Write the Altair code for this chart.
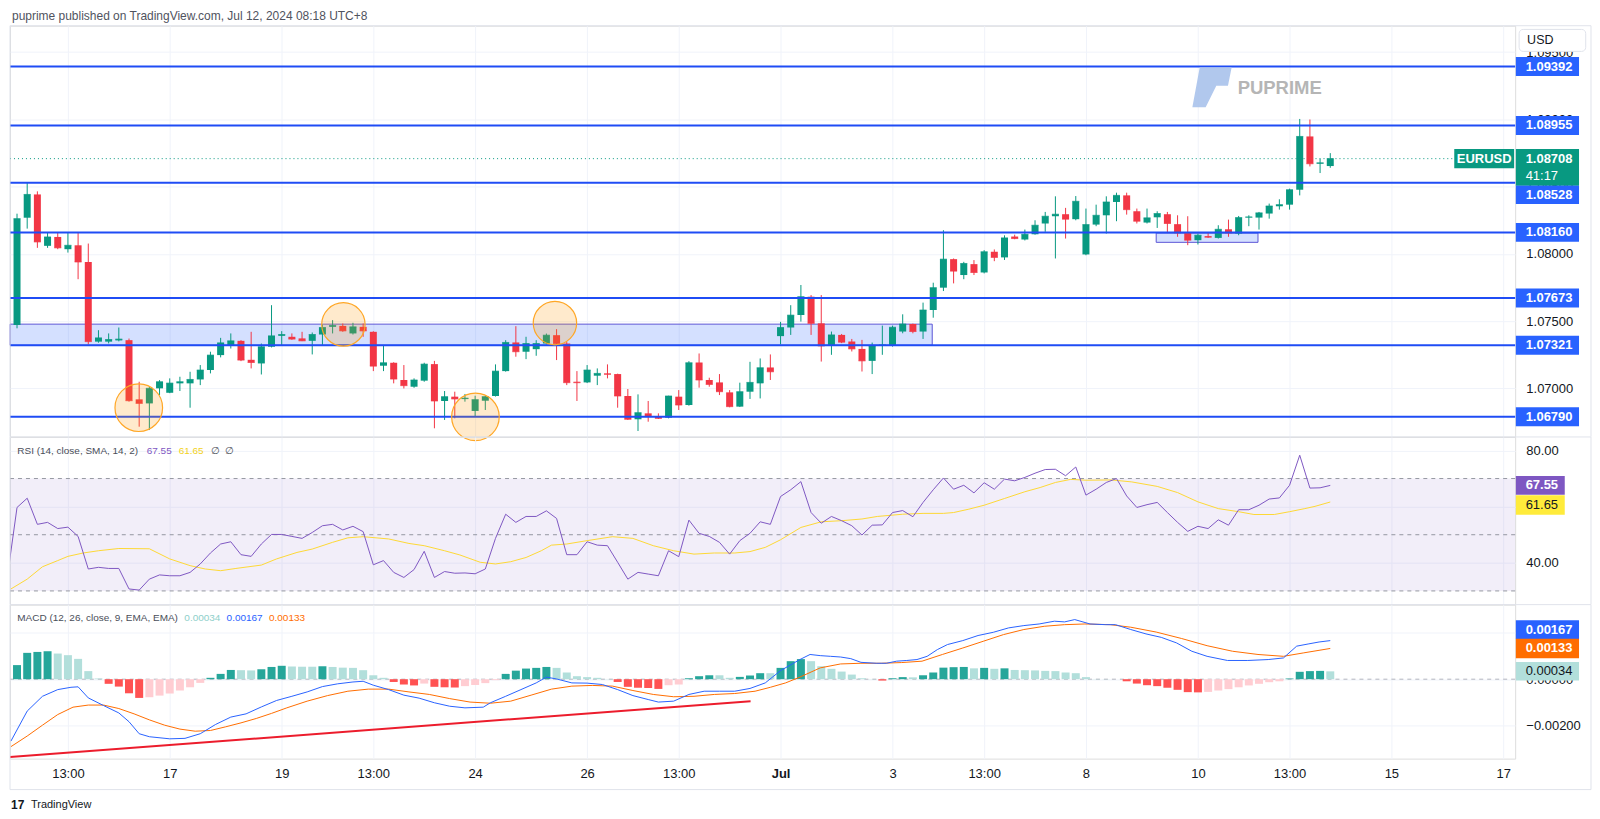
import altair as alt
import numpy as np
import pandas as pd

# ====================== DATA ======================
# EURUSD 4H candles (index 0 = first visible bar)
opens = [1.07472, 1.08269, 1.08442, 1.08060, 1.08126, 1.08035, 1.08064, 1.07940, 1.07348, 1.07348,
         1.07357, 1.07359, 1.06919, 1.06889, 1.07001, 1.06968, 1.07038, 1.07038, 1.07067, 1.07137,
         1.07248, 1.07322, 1.07354, 1.07213, 1.07186, 1.07310, 1.07391, 1.07384, 1.07372, 1.07354,
         1.07401, 1.07458, 1.07465, 1.07409, 1.07458, 1.07421, 1.07169, 1.07191, 1.07063, 1.07013,
         1.07058, 1.07181, 1.06907, 1.06939, 1.06921, 1.06833, 1.06909, 1.06944, 1.07129, 1.07342,
         1.07273, 1.07292, 1.07334, 1.07396, 1.07334, 1.07050, 1.07045, 1.07095, 1.07112, 1.07107,
         1.06944, 1.06771, 1.06815, 1.06791, 1.06783, 1.06939, 1.06877, 1.07193, 1.07063, 1.07045,
         1.06971, 1.06865, 1.06976, 1.07038, 1.07156, 1.07389, 1.07453, 1.07546, 1.07682, 1.07484,
         1.07316, 1.07398, 1.07349, 1.07294, 1.07205, 1.07317, 1.07319, 1.07423, 1.07479, 1.07423,
         1.07583, 1.07749, 1.07961, 1.07843, 1.07924, 1.07862, 1.08016, 1.07974, 1.08129, 1.08107,
         1.08146, 1.08226, 1.08280, 1.08295, 1.08258, 1.07996, 1.08218, 1.08287, 1.08386, 1.08435,
         1.08317, 1.08233, 1.08272, 1.08295, 1.08221, 1.08159, 1.08102, 1.08132, 1.08119, 1.08183,
         1.08151, 1.08270, 1.08270, 1.08300, 1.08354, 1.08366, 1.08477, 1.08873, 1.08670, 1.08653]
highs = [1.08299, 1.08529, 1.08465, 1.08158, 1.08158, 1.08158, 1.08163, 1.08077, 1.07433, 1.07409,
         1.07453, 1.07371, 1.07050, 1.07013, 1.07062, 1.07075, 1.07087, 1.07124, 1.07174, 1.07273,
         1.07376, 1.07409, 1.07359, 1.07421, 1.07334, 1.07619, 1.07426, 1.07409, 1.07421, 1.07416,
         1.07475, 1.07508, 1.07483, 1.07488, 1.07483, 1.07425, 1.07322, 1.07195, 1.07174, 1.07075,
         1.07191, 1.07205, 1.06981, 1.06976, 1.06959, 1.06946, 1.06946, 1.07179, 1.07359, 1.07463,
         1.07384, 1.07359, 1.07408, 1.07441, 1.07347, 1.07129, 1.07174, 1.07149, 1.07179, 1.07110,
         1.06996, 1.06956, 1.06907, 1.06815, 1.06946, 1.06988, 1.07203, 1.07260, 1.07080, 1.07107,
         1.06988, 1.07043, 1.07198, 1.07223, 1.07253, 1.07495, 1.07619, 1.07769, 1.07694, 1.07694,
         1.07423, 1.07405, 1.07368, 1.07361, 1.07341, 1.07467, 1.07467, 1.07551, 1.07482, 1.07638,
         1.07786, 1.08176, 1.07966, 1.07941, 1.07954, 1.08028, 1.08033, 1.08138, 1.08143, 1.08181,
         1.08250, 1.08312, 1.08428, 1.08342, 1.08430, 1.08337, 1.08366, 1.08428, 1.08455, 1.08455,
         1.08337, 1.08337, 1.08317, 1.08312, 1.08287, 1.08280, 1.08151, 1.08156, 1.08213, 1.08255,
         1.08282, 1.08287, 1.08312, 1.08374, 1.08406, 1.08485, 1.09003, 1.08999, 1.08707, 1.08749]
lows = [1.07447, 1.08188, 1.08045, 1.08045, 1.08035, 1.08010, 1.07812, 1.07327, 1.07340, 1.07335,
        1.07350, 1.06902, 1.06716, 1.06691, 1.06951, 1.06965, 1.06981, 1.06857, 1.07025, 1.07112,
        1.07231, 1.07297, 1.07203, 1.07149, 1.07104, 1.07305, 1.07322, 1.07362, 1.07352, 1.07253,
        1.07322, 1.07409, 1.07421, 1.07401, 1.07384, 1.07129, 1.07129, 1.07038, 1.07000, 1.07005,
        1.07050, 1.06704, 1.06766, 1.06778, 1.06902, 1.06791, 1.06840, 1.06940, 1.07125, 1.07236,
        1.07218, 1.07243, 1.07327, 1.07211, 1.07025, 1.06907, 1.07040, 1.07025, 1.07075, 1.06857,
        1.06766, 1.06684, 1.06753, 1.06773, 1.06778, 1.06840, 1.06872, 1.07006, 1.07013, 1.06951,
        1.06860, 1.06862, 1.06922, 1.06926, 1.07063, 1.07327, 1.07398, 1.07497, 1.07398, 1.07200,
        1.07250, 1.07337, 1.07275, 1.07126, 1.07107, 1.07250, 1.07311, 1.07410, 1.07410, 1.07368,
        1.07526, 1.07724, 1.07781, 1.07812, 1.07843, 1.07855, 1.07946, 1.07955, 1.08109, 1.08100,
        1.08143, 1.08164, 1.07966, 1.08114, 1.08250, 1.07990, 1.08206, 1.08151, 1.08243, 1.08292,
        1.08226, 1.08226, 1.08193, 1.08159, 1.08127, 1.08065, 1.08070, 1.08119, 1.08114, 1.08127,
        1.08139, 1.08206, 1.08181, 1.08262, 1.08329, 1.08329, 1.08435, 1.08650, 1.08601, 1.08640]
closes = [1.08262, 1.08442, 1.08089, 1.08126, 1.08045, 1.08064, 1.07940, 1.07348, 1.07376, 1.07364,
          1.07367, 1.06909, 1.06889, 1.07001, 1.07050, 1.07040, 1.07050, 1.07067, 1.07137, 1.07248,
          1.07339, 1.07354, 1.07211, 1.07193, 1.07310, 1.07391, 1.07401, 1.07367, 1.07354, 1.07401,
          1.07453, 1.07468, 1.07428, 1.07458, 1.07428, 1.07166, 1.07191, 1.07070, 1.07021, 1.07063,
          1.07181, 1.06907, 1.06939, 1.06922, 1.06928, 1.06917, 1.06939, 1.07129, 1.07342, 1.07273,
          1.07334, 1.07334, 1.07396, 1.07334, 1.07043, 1.07043, 1.07137, 1.07112, 1.07105, 1.06944,
          1.06771, 1.06820, 1.06791, 1.06778, 1.06944, 1.06877, 1.07191, 1.07063, 1.07030, 1.06976,
          1.06865, 1.06976, 1.07045, 1.07154, 1.07124, 1.07453, 1.07545, 1.07682, 1.07484, 1.07316,
          1.07398, 1.07344, 1.07294, 1.07205, 1.07316, 1.07324, 1.07455, 1.07479, 1.07423, 1.07583,
          1.07749, 1.07961, 1.07872, 1.07929, 1.07862, 1.08016, 1.07974, 1.08119, 1.08114, 1.08146,
          1.08213, 1.08280, 1.08295, 1.08258, 1.08391, 1.08218, 1.08287, 1.08386, 1.08435, 1.08329,
          1.08243, 1.08268, 1.08300, 1.08226, 1.08156, 1.08102, 1.08139, 1.08124, 1.08183, 1.08156,
          1.08270, 1.08275, 1.08305, 1.08356, 1.08366, 1.08477, 1.08873, 1.08670, 1.08677, 1.08708]

# time axis ticks (bar index -> label)
tick_idx = [5, 15, 26, 35, 45, 56, 65, 75, 86, 95, 105, 116, 125, 135, 146]
tick_text = ["13:00", "17", "19", "13:00", "24", "26", "13:00", "Jul", "3", "13:00", "8", "10", "13:00", "15", "17"]

price_ticks = [1.070, 1.075, 1.080, 1.085, 1.090, 1.095]
levels = [1.09392, 1.08955, 1.08528, 1.08160, 1.07673, 1.07321, 1.06790]
last_price = 1.08708
countdown = "41:17"
symbol = "EURUSD"

zone_x0 = [-0.69, 111.9]
zone_x1 = [89.9, 121.9]
zone_hi = [1.07478, 1.08155]
zone_lo = [1.07321, 1.08086]

circle_i = [11.96, 32.06, 45.03, 52.84]
circle_p = [1.06857, 1.07476, 1.06789, 1.07486]

# RSI (14) from bar -1
rsi_start = -1
rsi_vals = [33.7, 59.7, 63.0, 53.7, 54.4, 52.2, 52.7, 49.4, 37.8, 38.4,
            38.0, 38.0, 30.7, 30.3, 34.2, 35.7, 35.4, 35.4, 36.6, 39.6,
            43.5, 46.7, 47.5, 42.9, 42.3, 46.7, 50.1, 50.1, 49.4, 48.7,
            50.8, 53.2, 53.7, 51.7, 53.0, 51.1, 39.3, 40.8, 36.6, 34.8,
            37.6, 44.1, 34.8, 36.9, 36.3, 36.4, 36.1, 37.8, 48.7, 57.3,
            54.4, 56.5, 56.5, 58.5, 55.8, 42.9, 42.9, 47.5, 46.3, 46.1,
            40.2, 34.2, 36.6, 36.0, 35.4, 44.3, 42.2, 55.2, 50.5, 49.4,
            47.3, 43.1, 47.9, 50.5, 54.6, 53.7, 63.6, 66.0, 68.9, 57.9,
            54.1, 56.5, 55.0, 53.2, 49.9, 53.4, 53.5, 57.9, 58.6, 56.4,
            61.5, 66.0, 70.2, 66.2, 67.6, 64.9, 68.5, 66.2, 69.8, 69.2,
            70.4, 71.9, 73.2, 73.3, 71.0, 74.1, 64.1, 66.2, 68.6, 70.0,
            63.8, 59.7, 60.7, 61.5, 57.9, 54.4, 51.2, 53.0, 52.2, 55.3,
            53.4, 58.9, 58.9, 60.5, 62.7, 63.1, 67.6, 78.3, 66.6, 66.7,
            67.55]
sma_idx = [-0.6, 1, 2.5, 4, 5, 6.5, 8, 10, 13, 15, 17, 18.5, 20, 21.5, 24, 25.5, 27.5, 29, 31, 32.5,
           34, 36.5, 38.5, 40, 42, 43.5, 45.5, 47, 48.5, 50, 51.5, 52.5, 54, 56, 58.5, 60.5, 62.5, 64.5,
           66.5, 68.5, 70.5, 72, 73.5, 75, 77, 79, 81, 83, 84.5, 87, 89, 91, 92, 93.5, 95, 97, 99, 100.5,
           102, 103.5, 105, 107.5, 109.5, 112, 114, 116, 118, 120, 121.5, 123.5, 125, 126.5, 127.5, 129]
sma_vals = [30.7, 34.2, 38.6, 40.8, 42.3, 43.5, 44.3, 45.1, 45.0, 41.4, 39.0, 37.8, 37.2, 38.0, 39.2,
            41.4, 43.7, 44.9, 47.3, 48.9, 49.3, 48.5, 46.9, 46.1, 44.3, 42.8, 40.2, 39.6, 40.4, 41.9,
            44.3, 46.3, 46.7, 47.9, 49.3, 48.7, 46.1, 44.3, 43.1, 43.5, 43.5, 44.0, 45.5, 48.2, 52.6,
            54.6, 55.0, 55.6, 56.5, 57.3, 57.6, 57.6, 57.9, 59.1, 60.5, 62.9, 65.3, 66.8, 68.6, 69.7,
            69.4, 69.5, 68.8, 67.2, 65.0, 61.7, 59.3, 58.2, 57.2, 57.2, 58.2, 59.3, 60.1, 61.65]
rsi_ticks = [40, 60, 80]
rsi_bands = [70, 50, 30]

# MACD (12, 26, 9)
hist_vals = [0.00061, 0.00114, 0.00118, 0.00121, 0.00111, 0.00104, 0.00088, 0.00035, 0.00003, -0.00020,
             -0.00032, -0.00061, -0.00081, -0.00078, -0.00071, -0.00062, -0.00049, -0.00035, -0.00016, 0.00006,
             0.00023, 0.00040, 0.00039, 0.00038, 0.00043, 0.00053, 0.00058, 0.00055, 0.00054, 0.00054,
             0.00056, 0.00053, 0.00050, 0.00049, 0.00039, 0.00017, 0.00006, -0.00012, -0.00023, -0.00027,
             -0.00019, -0.00033, -0.00035, -0.00036, -0.00030, -0.00025, -0.00017, -0.00004, 0.00023, 0.00037,
             0.00046, 0.00049, 0.00053, 0.00049, 0.00029, 0.00013, 0.00009, 0.00006, 0.00001, -0.00012,
             -0.00033, -0.00037, -0.00038, -0.00042, -0.00026, -0.00023, 0.00004, 0.00013, 0.00017, 0.00017,
             0.00006, 0.00010, 0.00016, 0.00026, 0.00026, 0.00049, 0.00078, 0.00087, 0.00078, 0.00056,
             0.00045, 0.00033, 0.00020, 0.00004, 0.00001, -0.00006, 0.00004, 0.00009, 0.00008, 0.00017,
             0.00029, 0.00050, 0.00052, 0.00053, 0.00047, 0.00049, 0.00045, 0.00047, 0.00040, 0.00039,
             0.00038, 0.00036, 0.00035, 0.00029, 0.00026, 0.00009, 0.00001, 0.000005, 0.0, -0.00009,
             -0.00019, -0.00026, -0.00030, -0.00037, -0.00046, -0.00056, -0.00057, -0.00055, -0.00049, -0.00043,
             -0.00035, -0.00027, -0.00020, -0.00013, -0.00009, 0.00003, 0.00032, 0.00035, 0.00036, 0.00034]
macd_idx = [-0.6, 1, 2.5, 4, 5.3, 6, 7, 8.5, 10, 11, 12, 13, 15, 16.5, 18, 19.5, 21, 22.5, 24, 25.5,
            27, 28.5, 30, 31.5, 33, 34, 35, 36.5, 38, 39.5, 41, 42.5, 44, 45.8, 46.5, 48, 49.5, 51, 52, 53,
            54.5, 56, 57.5, 59, 60.5, 62, 63, 64.5, 66, 67.5, 69, 70.5, 72, 73.5, 75, 76.9, 77.9, 78.9,
            79.9, 80.9, 81.9, 82.9, 84.4, 85.4, 86.4, 87.4, 88.4, 89.4, 90.4, 91.4, 92.9, 94.4, 95.9, 97.4,
            98.9, 100.4, 101.9, 102.9, 103.9, 105.4, 106.9, 107.9, 109.4, 110.9, 112.4, 113.9, 115.4, 116.9,
            118.9, 120.9, 122.9, 124.4, 125.7, 126.9, 127.9, 129]
macd_vals = [-0.00268, -0.00138, -0.00074, -0.00045, -0.00035, -0.00033, -0.00081, -0.00114, -0.00146, -0.00184,
             -0.00236, -0.00249, -0.00258, -0.00256, -0.00236, -0.00196, -0.00164, -0.00150, -0.00120, -0.00092,
             -0.00074, -0.00055, -0.00032, -0.00020, -0.00012, -0.00009, -0.00026, -0.00045, -0.00069, -0.00082,
             -0.00102, -0.00117, -0.00124, -0.00121, -0.00102, -0.00074, -0.00045, -0.00016, 0.00009, 0.00001,
             -0.00016, -0.00017, -0.00023, -0.00045, -0.00071, -0.00088, -0.00099, -0.00095, -0.00066, -0.00052,
             -0.00052, -0.00052, -0.00040, -0.00016, 0.00037, 0.00085, 0.00107, 0.00102, 0.00099, 0.00096,
             0.00089, 0.00073, 0.00069, 0.00069, 0.00078, 0.00081, 0.00085, 0.00099, 0.00128, 0.00150,
             0.00167, 0.00189, 0.00203, 0.00222, 0.00232, 0.00239, 0.00251, 0.00248, 0.00258, 0.00239,
             0.00236, 0.00236, 0.00215, 0.00196, 0.00181, 0.00157, 0.00121, 0.00099, 0.00081, 0.00081,
             0.00085, 0.00092, 0.00143, 0.00153, 0.00161, 0.00167]
sig_idx = [-0.6, 1, 2.5, 4, 5.5, 7, 8.5, 10, 11.5, 13, 14.5, 16, 17.5, 19, 20.5, 22, 23.5, 25, 26.5, 28.5,
           30.5, 32.5, 34.5, 36.5, 38.5, 40.5, 42.5, 44.5, 46.5, 48.5, 50.5, 52.5, 54.5, 56.5, 58.5, 60.5,
           62.5, 64.5, 66.5, 68.5, 70.5, 72.5, 74, 75.5, 76.9, 78.9, 80.9, 82.9, 84.9, 86.9, 88.9, 90.9,
           92.9, 94.9, 96.9, 98.9, 100.9, 102.9, 104.9, 107.4, 109.4, 111.9, 114.4, 116.9, 119.4, 121.9,
           124.4, 126.4, 129]
sig_vals = [-0.00292, -0.00246, -0.00199, -0.00153, -0.00121, -0.00112, -0.00112, -0.00127, -0.00150, -0.00176,
            -0.00199, -0.00216, -0.00225, -0.00222, -0.00206, -0.00189, -0.00170, -0.00148, -0.00124, -0.00095,
            -0.00071, -0.00052, -0.00043, -0.00043, -0.00055, -0.00066, -0.00084, -0.00099, -0.00104, -0.00095,
            -0.00069, -0.00043, -0.00030, -0.00027, -0.00030, -0.00049, -0.00066, -0.00076, -0.00074, -0.00066,
            -0.00062, -0.00052, -0.00035, -0.00016, 0.00009, 0.00049, 0.00066, 0.00069, 0.00069, 0.00072,
            0.00078, 0.00107, 0.00135, 0.00164, 0.00193, 0.00215, 0.00229, 0.00236, 0.00239, 0.00236,
            0.00225, 0.00204, 0.00176, 0.00145, 0.00121, 0.00107, 0.00099, 0.00114, 0.00133]
macd_ticks = [-0.002, 0.0, 0.002]
trend_i = [-0.69, 72.06]
trend_v = [-0.00337, -0.00095]

# ====================== STYLE / LAYOUT ======================
FONT = "Liberation Sans"
W = 1508
H_PRICE, H_RSI, H_MACD = 411.7, 167.7, 154.3
RIGHT = 1584
TXT = "#131722"
GRID = "#f0f3fa"
BORDER = "#e0e3eb"
GREEN = "#089981"
RED = "#f23645"
BLUE = "#2962ff"
LINEBLUE = "#1f4cf5"
BOX_CX = 1540.35
BOX_W = 63.3
LAB_X = 1518.5


def rect_shape(w, h):
    r = h / w
    return f"M -1 {-r:.4f} L 1 {-r:.4f} L 1 {r:.4f} L -1 {r:.4f} Z"


one = pd.DataFrame({"k": [0]})


def hrule(y, x0, x1, color=BORDER, width=1, dash=None):
    kw = dict(color=color, strokeWidth=width)
    if dash:
        kw["strokeDash"] = dash
    return alt.Chart(one).mark_rule(**kw).encode(x=alt.value(x0), x2=alt.value(x1), y=alt.value(y))


def vrule(x, y0, y1, color=BORDER, width=1):
    return alt.Chart(one).mark_rule(color=color, strokeWidth=width).encode(
        x=alt.value(x), y=alt.value(y0), y2=alt.value(y1))


def label(s, x, y, color=TXT, size=10, weight="normal", align="left"):
    return alt.Chart(pd.DataFrame({"t": [s]})).mark_text(
        align=align, baseline="middle", font=FONT, fontSize=size, fontWeight=weight, color=color
    ).encode(x=alt.value(x), y=alt.value(y), text="t:N")


xs = alt.Scale(domain=[-0.69, 147.16], nice=False, zero=False, padding=0)
xgrid = alt.Axis(values=tick_idx, labels=False, ticks=False, tickSize=0, domain=False,
                 grid=True, gridColor=GRID, title=None)
lab_expr = "[" + ",".join(f"'{t}'" for t in tick_text) + "][indexof([" + \
    ",".join(str(v) for v in tick_idx) + "], datum.value)]"
xlab = alt.Axis(values=tick_idx, labelExpr=lab_expr, ticks=False, tickSize=0, domain=False,
                grid=True, gridColor=GRID, title=None, labelFont=FONT, labelFontSize=13,
                labelColor=TXT, labelPadding=9, labelFlush=False, labelOverlap=False,
                labelFontWeight={"condition": {"test": "datum.value == 75", "value": "bold"},
                                 "value": "normal"})


def yaxis(vals, fmt):
    return alt.Axis(orient="right", values=vals, format=fmt, title=None, ticks=False, tickSize=0,
                    domain=False, grid=True, gridColor=GRID, labelFont=FONT, labelFontSize=13,
                    labelColor=TXT, labelPadding=10.7, labelAlign="left", labelBaseline="middle",
                    labelFlush=False, labelOverlap=False)


# ---------------- price pane ----------------
ps = alt.Scale(domain=[1.066419, 1.096958], nice=False, zero=False, padding=0)
pax = yaxis(price_ticks, ".5f")


def PX(f):
    return alt.X(f"{f}:Q", scale=xs, axis=xgrid)


def PY(f):
    return alt.Y(f"{f}:Q", scale=ps, axis=pax)


cdf = pd.DataFrame({"i": list(range(len(opens))), "open": opens, "high": highs, "low": lows, "close": closes})
cdf["dir"] = np.where(cdf["close"] >= cdf["open"], "up", "down")
dircol = alt.Color("dir:N", scale=alt.Scale(domain=["up", "down"], range=[GREEN, RED]), legend=None)

zdf = pd.DataFrame({"x0": zone_x0, "x1": zone_x1, "hi": zone_hi, "lo": zone_lo})
ldf = pd.DataFrame({"level": levels, "label": [f"{v:.5f}" for v in levels]})
cirdf = pd.DataFrame({"i": circle_i, "p": circle_p})
cpdf = pd.DataFrame({"p": [last_price], "lab": [f"{last_price:.5f}"], "cd": [countdown], "sym": [symbol]})

zones = alt.Chart(zdf).mark_rect(fill=BLUE, fillOpacity=0.2, stroke="#5b55d6", strokeWidth=1).encode(
    x=PX("x0"), x2="x1", y=PY("hi"), y2="lo")
cur_line = alt.Chart(cpdf).mark_rule(color=GREEN, strokeWidth=1, strokeDash=[1, 3]).encode(
    y=PY("p"), x=alt.value(0), x2=alt.value(1447))
wicks = alt.Chart(cdf).mark_rule(strokeWidth=1).encode(x=PX("i"), y=PY("low"), y2="high", color=dircol)
bodies = alt.Chart(cdf).mark_bar(size=7).encode(x=PX("i"), y=PY("open"), y2="close", color=dircol)
dojis = alt.Chart(cdf).mark_tick(orient="horizontal", size=7, thickness=1).encode(
    x=PX("i"), y=PY("close"), color=dircol)
lvl_lines = alt.Chart(ldf).mark_rule(color=LINEBLUE, strokeWidth=2).encode(
    y=PY("level"), x=alt.value(0), x2=alt.value(W))
big_c = alt.Chart(cirdf.iloc[[0, 2]]).mark_point(
    shape="circle", size=2275, filled=True, fill="#ff9800", fillOpacity=0.2, stroke="#ffa726",
    strokeWidth=1.2, opacity=1).encode(x=PX("i"), y=PY("p"))
small_c = alt.Chart(cirdf.iloc[[1, 3]]).mark_point(
    shape="circle", size=1892, filled=True, fill="#ff9800", fillOpacity=0.2, stroke="#ffa726",
    strokeWidth=1.2, opacity=1).encode(x=PX("i"), y=PY("p"))

main_l = ldf[ldf["level"] != 1.08528]
shift_l = ldf[ldf["level"] == 1.08528]


def level_boxes(d, yoff):
    b = alt.Chart(d).mark_point(shape=rect_shape(BOX_W, 19), size=BOX_W ** 2, filled=True, fill=BLUE,
                                opacity=1, strokeWidth=0, yOffset=yoff).encode(
        x=alt.value(BOX_CX), y=PY("level"))
    t = alt.Chart(d).mark_text(align="left", baseline="middle", font=FONT, fontSize=13, fontWeight="bold",
                               color="white", yOffset=yoff).encode(
        x=alt.value(LAB_X), y=PY("level"), text="label:N")
    return [b, t]


sym_box = alt.Chart(cpdf).mark_point(shape=rect_shape(60, 19.3), size=3600, filled=True, fill=GREEN,
                                     opacity=1, strokeWidth=0).encode(x=alt.value(1477), y=PY("p"))
sym_txt = alt.Chart(cpdf).mark_text(align="center", baseline="middle", font=FONT, fontSize=13,
                                    fontWeight="bold", color="white").encode(
    x=alt.value(1477), y=PY("p"), text="sym:N")
cp_box = alt.Chart(cpdf).mark_point(shape=rect_shape(BOX_W, 36.6), size=BOX_W ** 2, filled=True, fill=GREEN,
                                    opacity=1, strokeWidth=0, yOffset=8.6).encode(
    x=alt.value(BOX_CX), y=PY("p"))
cp_txt = alt.Chart(cpdf).mark_text(align="left", baseline="middle", font=FONT, fontSize=13,
                                   fontWeight="bold", color="white", yOffset=0.3).encode(
    x=alt.value(LAB_X), y=PY("p"), text="lab:N")
cd_txt = alt.Chart(cpdf).mark_text(align="left", baseline="middle", font=FONT, fontSize=13,
                                   color="white", yOffset=17).encode(
    x=alt.value(LAB_X), y=PY("p"), text="cd:N")

usd_box = alt.Chart(one).mark_rect(fill="white", stroke=BORDER, strokeWidth=1, cornerRadius=4).encode(
    x=alt.value(1512), x2=alt.value(1578.7), y=alt.value(3.7), y2=alt.value(25.7))
usd_txt = label("USD", 1520, 14.8, TXT, 12.5)

logo_path = "M -0.61 -0.98 L 0.95 -0.98 L 0.77 -0.08 L 0.2 -0.08 L -0.32 0.98 L -0.97 0.98 Z"
logo = alt.Chart(one).mark_point(shape=logo_path, size=1681, filled=True, fill="#a9c2eb", opacity=0.9,
                                 strokeWidth=0).encode(x=alt.value(1204.5), y=alt.value(61.7))
wm = label("PUPRIME", 1230, 62.2, "#b5b5b5", 18.5, "bold")
header = label("puprime published on TradingView.com, Jul 12, 2024 08:18 UTC+8", 2, -9.6, "#50535e", 12)

price_layers = [
    zones, cur_line, wicks, bodies, dojis, lvl_lines, big_c, small_c, logo, wm,
    *level_boxes(main_l, 0), *level_boxes(shift_l, 11.8),
    sym_box, sym_txt, cp_box, cp_txt, cd_txt, usd_box, usd_txt, header,
    hrule(0, 0, RIGHT), vrule(0, 0, H_PRICE), vrule(RIGHT, 0, H_PRICE),
]
price = alt.layer(*price_layers).properties(width=W, height=H_PRICE)

# ---------------- RSI pane ----------------
rs = alt.Scale(domain=[25.23, 84.80], nice=False, zero=False, padding=0)
rax = yaxis(rsi_ticks, ".2f")


def RX(f):
    return alt.X(f"{f}:Q", scale=xs, axis=xgrid)


def RY(f):
    return alt.Y(f"{f}:Q", scale=rs, axis=rax)


rdf = pd.DataFrame({"i": list(range(rsi_start, rsi_start + len(rsi_vals))), "rsi": rsi_vals})
sdf = pd.DataFrame({"i": sma_idx, "sma": sma_vals})
bdf = pd.DataFrame({"b": rsi_bands})
banddf = pd.DataFrame({"hi": [70], "lo": [30]})
rlast = pd.DataFrame({"r": [rsi_vals[-1]], "s": [sma_vals[-1]],
                      "rl": [f"{rsi_vals[-1]:.2f}"], "sl": [f"{sma_vals[-1]:.2f}"]})

band = alt.Chart(banddf).mark_rect(fill="#7e57c2", fillOpacity=0.1).encode(
    x=alt.value(0), x2=alt.value(W), y=RY("hi"), y2="lo")
dashes = alt.Chart(bdf).mark_rule(color="#9598a1", strokeWidth=1, strokeDash=[4, 4]).encode(
    y=RY("b"), x=alt.value(0), x2=alt.value(W))
rsi_line = alt.Chart(rdf).mark_line(color="#7e57c2", strokeWidth=1, clip=True).encode(x=RX("i"), y=RY("rsi"))
sma_line = alt.Chart(sdf).mark_line(color="#fdd835", strokeWidth=1, clip=True).encode(x=RX("i"), y=RY("sma"))
rbox = alt.Chart(rlast).mark_point(shape=rect_shape(49, 18.7), size=49 ** 2, filled=True, fill="#7e57c2",
                                   opacity=1, strokeWidth=0).encode(x=alt.value(1533.2), y=RY("r"))
rtxt = alt.Chart(rlast).mark_text(align="left", baseline="middle", font=FONT, fontSize=13,
                                  fontWeight="bold", color="white").encode(
    x=alt.value(LAB_X), y=RY("r"), text="rl:N")
sbox = alt.Chart(rlast).mark_point(shape=rect_shape(49, 19.6), size=49 ** 2, filled=True, fill="#ffeb3b",
                                   opacity=1, strokeWidth=0, yOffset=3).encode(x=alt.value(1533.2), y=RY("s"))
stxt = alt.Chart(rlast).mark_text(align="left", baseline="middle", font=FONT, fontSize=13,
                                  color=TXT, yOffset=3).encode(
    x=alt.value(LAB_X), y=RY("s"), text="sl:N")

rsi_layers = [
    band, dashes, sma_line, rsi_line, rbox, rtxt, sbox, stxt,
    label("RSI (14, close, SMA, 14, 2)", 7.3, 14, "#4a4e59", 10),
    label(f"{rsi_vals[-1]:.2f}", 137, 14, "#7e57c2", 10),
    label(f"{sma_vals[-1]:.2f}", 169, 14, "#f2d21b", 10),
    label("\u2205", 201, 14, "#4a4e59", 10),
    label("\u2205", 215, 14, "#4a4e59", 10),
    hrule(0, 0, RIGHT), vrule(0, 0, H_RSI), vrule(RIGHT, 0, H_RSI),
]
rsi = alt.layer(*rsi_layers).properties(width=W, height=H_RSI)

# ---------------- MACD pane ----------------
ms = alt.Scale(domain=[-0.003438, 0.003227], nice=False, zero=False, padding=0)
mx_axis = yaxis(macd_ticks, ".5f")


def MX(f):
    return alt.X(f"{f}:Q", scale=xs, axis=xlab)


def MY(f):
    return alt.Y(f"{f}:Q", scale=ms, axis=mx_axis)


hc = []
for k, h in enumerate(hist_vals):
    prev = hist_vals[k - 1] if k > 0 else None
    if h >= 0:
        hc.append("gd" if (prev is None or h > prev) else "gl")
    else:
        hc.append("rd" if (prev is None or h < prev) else "rl")
hdf = pd.DataFrame({"i": list(range(len(hist_vals))), "h": hist_vals, "zero": 0.0, "hc": hc})
mdf = pd.DataFrame({"i": macd_idx, "m": macd_vals})
gdf = pd.DataFrame({"i": sig_idx, "s": sig_vals})
tdf = pd.DataFrame({"i": trend_i, "v": trend_v})
zdf0 = pd.DataFrame({"z": [0.0]})
mlast = pd.DataFrame({"m": [macd_vals[-1]], "s": [sig_vals[-1]], "h": [hist_vals[-1]],
                      "ml": [f"{macd_vals[-1]:.5f}"], "sl": [f"{sig_vals[-1]:.5f}"],
                      "hl": [f"{hist_vals[-1]:.5f}"]})

zero_line = alt.Chart(zdf0).mark_rule(color="#b2b5be", strokeWidth=1, strokeDash=[4, 4]).encode(
    y=MY("z"), x=alt.value(0), x2=alt.value(W))
hist = alt.Chart(hdf).mark_bar(size=8).encode(
    x=MX("i"), y=MY("h"), y2="zero",
    color=alt.Color("hc:N", scale=alt.Scale(domain=["gd", "gl", "rd", "rl"],
                                            range=["#26a69a", "#b2dfdb", "#ff5252", "#ffcdd2"]), legend=None))
macd_line = alt.Chart(mdf).mark_line(color="#2962ff", strokeWidth=1, clip=True).encode(x=MX("i"), y=MY("m"))
sig_line = alt.Chart(gdf).mark_line(color="#ff6d00", strokeWidth=1, clip=True).encode(x=MX("i"), y=MY("s"))
trend = alt.Chart(tdf).mark_line(color="#ec1c2c", strokeWidth=2, clip=True).encode(x=MX("i"), y=MY("v"))


def val_box(field, lab, fill, tcolor, weight, yoff, h):
    b = alt.Chart(mlast).mark_point(shape=rect_shape(BOX_W, h), size=BOX_W ** 2, filled=True, fill=fill,
                                    opacity=1, strokeWidth=0, yOffset=yoff).encode(
        x=alt.value(BOX_CX), y=MY(field))
    t = alt.Chart(mlast).mark_text(align="left", baseline="middle", font=FONT, fontSize=13, fontWeight=weight,
                                   color=tcolor, yOffset=yoff).encode(
        x=alt.value(LAB_X), y=MY(field), text=f"{lab}:N")
    return [b, t]


macd_layers = [
    zero_line, hist, sig_line, macd_line, trend,
    *val_box("m", "ml", "#2962ff", "white", "bold", -11.1, 18.8),
    *val_box("s", "sl", "#ff6d00", "white", "bold", 0, 19.4),
    *val_box("h", "hl", "#b2dfdb", TXT, "normal", 0, 18.6),
    label("MACD (12, 26, close, 9, EMA, EMA)", 7.3, 13.3, "#4a4e59", 10),
    label(f"{hist_vals[-1]:.5f}", 174.7, 13.3, "#8fd0ca", 10),
    label(f"{macd_vals[-1]:.5f}", 217, 13.3, "#2962ff", 10),
    label(f"{sig_vals[-1]:.5f}", 259.5, 13.3, "#ff6d00", 10),
    hrule(0, 0, RIGHT), hrule(185.3, 0, RIGHT), vrule(0, 0, 185.3), vrule(RIGHT, 0, 185.3),
    label("17", 1, 200.3, TXT, 12, "bold"),
    label("TradingView", 21, 200.3, TXT, 11),
]
macd = alt.layer(*macd_layers).properties(width=W, height=H_MACD)

chart = alt.vconcat(price, rsi, macd, spacing=0, bounds="flush").resolve_scale(
    color="independent"
).properties(padding=0).configure_view(strokeWidth=0).configure(font=FONT)

chart.save("out.html", embed_options={"renderer": "svg", "actions": False})
